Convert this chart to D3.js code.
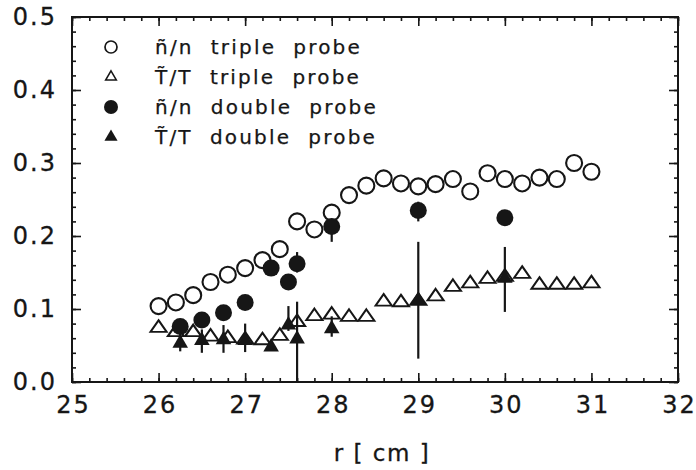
<!DOCTYPE html>
<html>
<head>
<meta charset="utf-8">
<script src="https://cdn.jsdelivr.net/npm/d3@7"></script>
<style>
  body { margin: 0; background: #fff; }
  text { font-family: "DejaVu Sans", "Liberation Sans", sans-serif; fill: #161616; }
</style>
</head>
<body>
<div id="chart"></div>
<script>
// r [cm] positions and fluctuation levels
const rTriple = [26.0, 26.2, 26.4, 26.6, 26.8, 27.0, 27.2, 27.4, 27.6, 27.8, 28.0, 28.2, 28.4,
                 28.6, 28.8, 29.0, 29.2, 29.4, 29.6, 29.8, 30.0, 30.2, 30.4, 30.6, 30.8, 31.0];
const nTriple = [0.104, 0.109, 0.119, 0.137, 0.147, 0.156, 0.167, 0.182, 0.220, 0.209, 0.232, 0.256, 0.269,
                 0.279, 0.272, 0.268, 0.271, 0.278, 0.261, 0.286, 0.278, 0.272, 0.280, 0.278, 0.300, 0.288];
const tTriple = [0.074, 0.068, 0.068, 0.062, 0.060, 0.058, 0.057, 0.063, 0.082, 0.090, 0.092, 0.089, 0.089,
                 0.110, 0.109, 0.111, 0.117, 0.130, 0.135, 0.141, 0.144, 0.148, 0.133, 0.133, 0.133, 0.135];

const rDouble = [26.25, 26.5, 26.75, 27.0, 27.3, 27.5, 27.6, 28.0, 29.0, 30.0];
const nDouble = [0.076, 0.085, 0.095, 0.109, 0.156, 0.137, 0.162, 0.213, 0.235, 0.225];
const nDoubleLo = [0.076, 0.085, 0.095, 0.109, 0.156, 0.137, 0.150, 0.192, 0.220, 0.225];
const nDoubleHi = [0.076, 0.085, 0.095, 0.109, 0.156, 0.137, 0.178, 0.220, 0.247, 0.225];
const rDoubleT = [26.25, 26.5, 26.75, 27.0, 27.3, 27.5, 27.6, 28.0, 29.0, 30.0];
const tDouble = [0.053, 0.057, 0.058, 0.057, 0.048, 0.078, 0.059, 0.073, 0.112, 0.142];
const tDoubleLo = [0.042, 0.040, 0.040, 0.041, 0.048, 0.070, 0.000, 0.062, 0.032, 0.096];
const tDoubleHi = [0.068, 0.072, 0.078, 0.080, 0.048, 0.104, 0.110, 0.090, 0.192, 0.185];

const legendLabels = ["ñ/n  triple  probe", "T\u0303/T  triple  probe", "ñ/n  double  probe", "T\u0303/T  double  probe"];
const xTicks = [25, 26, 27, 28, 29, 30, 31, 32];
const yTicks = [0, 0.1, 0.2, 0.3, 0.4, 0.5];

const width = 696, height = 470;
const margin = { top: 17, right: 18, bottom: 88, left: 72 };
const ink = "#161616";

const svg = d3.select("#chart").append("svg")
    .attr("width", width)
    .attr("height", height);

const x = d3.scaleLinear().domain([25, 32]).range([margin.left, width - margin.right]);
const y = d3.scaleLinear().domain([0, 0.5]).range([height - margin.bottom, margin.top]);

const minorX = d3.range(25, 32.001, 0.2).map(v => +v.toFixed(1));
const minorY = d3.range(0, 0.5001, 0.02).map(v => +v.toFixed(2));

function styleAxis(g) {
    g.select(".domain").remove();
    g.selectAll("line").attr("stroke", ink).attr("stroke-width", 1.6);
}

function styleLabels(g) {
    g.selectAll("text")
        .attr("font-size", 24)
        .attr("letter-spacing", 2)
        .attr("fill", ink)
        .attr("stroke", ink)
        .attr("stroke-width", 0.3);
}

// minor and major ticks on all four sides, pointing inward
const x0 = x(25), x1 = x(32), y0 = y(0), y1 = y(0.5);
svg.append("g").attr("transform", `translate(0,${y0})`)
    .call(d3.axisBottom(x).tickValues(minorX).tickSize(-4).tickFormat("")).call(styleAxis);
svg.append("g").attr("transform", `translate(0,${y0})`)
    .call(d3.axisBottom(x).tickValues(xTicks).tickSize(-9).tickPadding(14).tickFormat(d3.format("d")))
    .call(styleAxis)
    .call(styleLabels)
    .call(g => g.selectAll("text").attr("dx", 1));
svg.append("g").attr("transform", `translate(0,${y1})`)
    .call(d3.axisTop(x).tickValues(minorX).tickSize(-4).tickFormat("")).call(styleAxis);
svg.append("g").attr("transform", `translate(0,${y1})`)
    .call(d3.axisTop(x).tickValues(xTicks).tickSize(-9).tickFormat("")).call(styleAxis);

svg.append("g").attr("transform", `translate(${x0},0)`)
    .call(d3.axisLeft(y).tickValues(minorY).tickSize(-4).tickFormat("")).call(styleAxis);
svg.append("g").attr("transform", `translate(${x0},0)`)
    .call(d3.axisLeft(y).tickValues(yTicks).tickSize(-9).tickPadding(15).tickFormat(d3.format(".1f")))
    .call(styleAxis)
    .call(styleLabels);
svg.append("g").attr("transform", `translate(${x1},0)`)
    .call(d3.axisRight(y).tickValues(minorY).tickSize(-4).tickFormat("")).call(styleAxis);
svg.append("g").attr("transform", `translate(${x1},0)`)
    .call(d3.axisRight(y).tickValues(yTicks).tickSize(-9).tickFormat("")).call(styleAxis);

// frame
svg.append("rect")
    .attr("x", x0).attr("y", y1)
    .attr("width", x1 - x0).attr("height", y0 - y1)
    .attr("fill", "none").attr("stroke", ink).attr("stroke-width", 2);

// axis title
svg.append("text")
    .attr("x", 382).attr("y", 461)
    .attr("text-anchor", "middle")
    .attr("font-size", 23)
    .attr("letter-spacing", 1.5)
    .attr("fill", ink)
    .attr("stroke", ink).attr("stroke-width", 0.3)
    .text("r [ cm ]");

const tri = d3.symbol().type(d3.symbolTriangle);

// error bars
const errN = rDouble.map((r, i) => ({ r, lo: nDoubleLo[i], hi: nDoubleHi[i] })).filter(d => d.hi > d.lo);
const errT = rDoubleT.map((r, i) => ({ r, lo: tDoubleLo[i], hi: tDoubleHi[i] })).filter(d => d.hi > d.lo);
svg.append("g").selectAll("line")
    .data(errN.concat(errT))
    .join("line")
    .attr("x1", d => x(d.r)).attr("x2", d => x(d.r))
    .attr("y1", d => y(d.lo)).attr("y2", d => y(d.hi))
    .attr("stroke", ink).attr("stroke-width", 2.2);

// open circles: n/n triple probe
svg.append("g").selectAll("circle")
    .data(rTriple.map((r, i) => ({ r, v: nTriple[i] })))
    .join("circle")
    .attr("cx", d => x(d.r)).attr("cy", d => y(d.v))
    .attr("r", 8)
    .attr("fill", "none").attr("stroke", ink).attr("stroke-width", 2.1);

// open triangles: T/T triple probe
svg.append("g").selectAll("path")
    .data(rTriple.map((r, i) => ({ r, v: tTriple[i] })))
    .join("path")
    .attr("transform", d => `translate(${x(d.r)},${y(d.v)}) scale(1.15,0.95)`)
    .attr("d", tri.size(85)())
    .attr("fill", "none").attr("stroke", ink).attr("stroke-width", 1.9);

// filled circles: n/n double probe
svg.append("g").selectAll("circle")
    .data(rDouble.map((r, i) => ({ r, v: nDouble[i] })))
    .join("circle")
    .attr("cx", d => x(d.r)).attr("cy", d => y(d.v))
    .attr("r", 8.5)
    .attr("fill", ink);

// filled triangles: T/T double probe
svg.append("g").selectAll("path")
    .data(rDoubleT.map((r, i) => ({ r, v: tDouble[i] })))
    .join("path")
    .attr("transform", d => `translate(${x(d.r)},${y(d.v)})`)
    .attr("d", tri.size(105)())
    .attr("fill", ink);

// legend
const legendY = [47, 77, 107, 137];
const lg = svg.append("g");
lg.append("circle").attr("cx", 111).attr("cy", legendY[0]).attr("r", 6)
    .attr("fill", "none").attr("stroke", ink).attr("stroke-width", 1.7);
lg.append("path").attr("transform", `translate(111,${legendY[1]})`)
    .attr("d", tri.size(50)()).attr("fill", "none").attr("stroke", ink).attr("stroke-width", 1.5);
lg.append("circle").attr("cx", 111).attr("cy", legendY[2]).attr("r", 7).attr("fill", ink);
lg.append("path").attr("transform", `translate(111,${legendY[3]})`)
    .attr("d", tri.size(75)()).attr("fill", ink);
lg.selectAll("text")
    .data(legendLabels)
    .join("text")
    .attr("x", 155)
    .attr("y", (d, i) => legendY[i] + 7)
    .attr("font-size", 20)
    .attr("letter-spacing", 2.2)
    .attr("xml:space", "preserve")
    .style("white-space", "pre")
    .attr("fill", ink)
    .attr("stroke", ink).attr("stroke-width", 0.25)
    .text(d => d);
</script>
</body>
</html>
